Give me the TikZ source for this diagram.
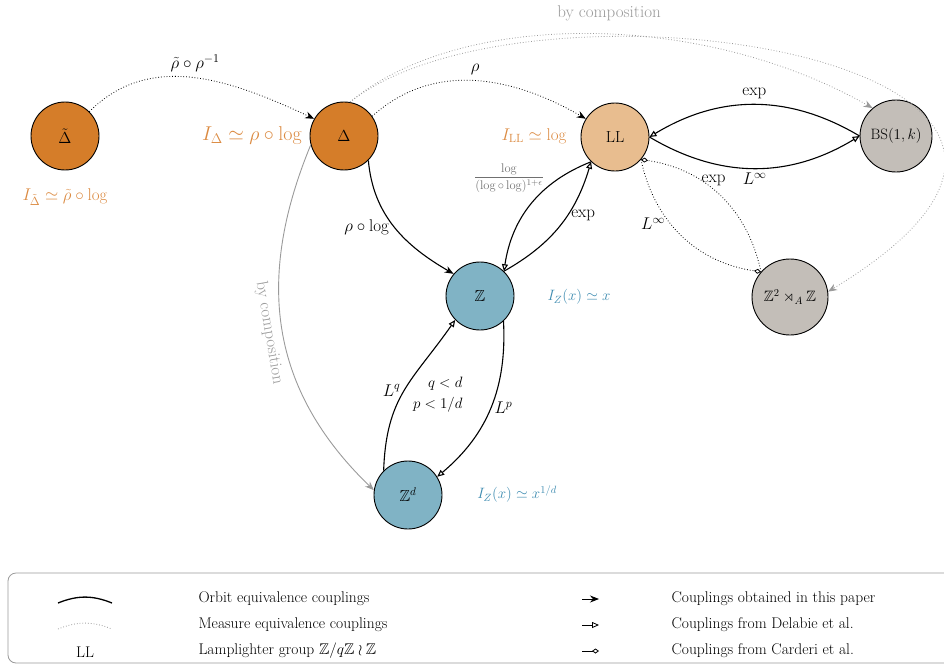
\RequirePackage{fix-cm}
\documentclass[tikz,border=0pt]{standalone}
\usepackage{amsmath,amssymb}
\usepackage{fontspec}
\usetikzlibrary{arrows.meta}
\definecolor{dorange}{HTML}{D57D29}
\definecolor{lorange}{HTML}{E8BD8F}
\definecolor{blueg}{HTML}{80B3C5}
\definecolor{grayg}{HTML}{C3BEB8}
\definecolor{orangetext}{HTML}{DB8A41}
\definecolor{bluetext}{HTML}{3D8BB0}
\definecolor{compgray}{HTML}{9A9A9A}
\definecolor{fracgray}{HTML}{707070}
\begin{document}
\begin{tikzpicture}[x=1pt,y=1pt,
  grp/.style={circle,draw=black,line width=0.9pt,minimum size=68pt,inner sep=0pt,font=\fontsize{16}{18}\selectfont},
  lbl/.style={font=\fontsize{17}{19}\selectfont},
  isoo/.style={text=orangetext,font=\fontsize{17}{19}\selectfont},
  isob/.style={text=bluetext,font=\fontsize{15}{17}\selectfont},
  oe/.style={line width=1.1pt},
  me/.style={dotted,line width=0.8pt},
  ours/.style={-{Stealth[length=9pt,width=7pt]}},
  dela/.style={-{Triangle[open,length=7pt,width=6pt]}},
  card/.style={-{Diamond[open,length=7pt,width=5pt]}},
  legtext/.style={font=\fontsize{15.5}{17}\selectfont,anchor=west},
]
\useasboundingbox (0,0) rectangle (944,-666);

% groups
\node[grp,fill=dorange] (Dt) at (65,-136) {$\tilde\Delta$};
\node[grp,fill=dorange] (D) at (344,-136) {$\Delta$};
\node[grp,fill=lorange] (LL) at (615,-137) {LL};
\node[grp,fill=grayg,minimum size=72pt,font=\fontsize{15}{17}\selectfont] (BS) at (896,-136) {BS$(1,k)$};
\node[grp,fill=blueg] (Z) at (480,-296) {$\mathbb{Z}$};
\node[grp,fill=grayg,minimum size=76pt,font=\fontsize{15}{17}\selectfont] (ZA) at (790,-297) {$\mathbb{Z}^2\rtimes_A\mathbb{Z}$};
\node[grp,fill=blueg] (Zd) at (408,-495) {$\mathbb{Z}^d$};

% isoperimetric profiles
\node[isoo] (iDt) at (65,-197) {$I_{\tilde\Delta}\simeq\tilde\rho\circ\log$};
\node[isoo,font=\fontsize{20}{22}\selectfont] (iD) at (252,-136) {$I_\Delta\simeq\rho\circ\log$};
\node[isoo] (iLL) at (534,-136) {$I_{\mathrm{LL}}\simeq\log$};
\node[isob] (iZ) at (579,-297) {$I_Z(x)\simeq x$};
\node[isob] (iZd) at (517,-494) {$I_Z(x)\simeq x^{1/d}$};

% measure equivalence (this paper)
\draw[me,ours] (Dt.45) to[out=45,in=155] node[lbl,above=2pt] {$\tilde\rho\circ\rho^{-1}$} (D.150);
\draw[me,ours] (D.35) to[out=42,in=150] node[lbl,above=2pt] {$\rho$} (LL.148);

% by composition (top)
\draw[me,draw=compgray,-{Stealth[length=9pt,width=7pt]},compgray] (D.80) .. controls (460,-10) and (700,-10) .. (BS.130);
\draw[me,draw=compgray,-{Stealth[length=9pt,width=7pt]},compgray] (D.80) .. controls (530,40) and (1210,-60) .. (ZA.8);
\node[lbl,text=compgray] (bc1) at (609,-13) {by composition};

% by composition (left)
\draw[line width=0.9pt,compgray,-{Stealth[length=9pt,width=7pt]}] (D.-165) .. controls (255,-280) and (270,-390) .. node[lbl,sloped,below=2pt,text=compgray] {by composition} (Zd.172);

% orbit equivalence (this paper)
\draw[oe,ours] (D.-45) to[out=-85,in=150] node[lbl,left=2pt,pos=0.5] {$\rho\circ\log$} (Z.140);

% Delabie et al.
\draw[oe,dela] (LL.-134) to[bend right=30] (Z.46);
\node[text=fracgray,font=\fontsize{12.5}{14}\selectfont] (frac) at (509,-178) {$\dfrac{\log}{(\log\circ\log)^{1+\epsilon}}$};
\draw[oe,dela] (Z.46) to[bend right=22] node[lbl,right,pos=0.6] {$\exp$} (LL.-134);
\draw[oe,dela] (BS.180) to[bend right=31] node[lbl,above=2pt] {$\exp$} (LL.0);
\draw[oe,dela] (LL.0) to[bend right=31] node[lbl,below=1pt] {$L^\infty$} (BS.180);
\draw[oe,dela] (Z.-47) to[out=-87,in=40] node[lbl,right,pos=0.5] {$L^p$} (Zd.32);
\draw[oe,dela] (Zd.135) to[out=88,in=-125,looseness=1.15] node[lbl,left,pos=0.5] {$L^q$} (Z.-136);
\node[lbl,anchor=east,align=right,font=\fontsize{15}{21}\selectfont] (cond) at (466,-395) {$q<d$\\$p<1/d$};

% Carderi et al.
\draw[me,card] (ZA.139) to[bend right=35] node[lbl,above,pos=0.55] {$\exp$} (LL.-41);
\draw[me,card] (LL.-41) to[bend right=35] node[lbl,left=2pt,pos=0.4] {$L^\infty$} (ZA.139);

% legend
\draw[compgray,line width=0.8pt,rounded corners=8pt] (8,-573) rectangle (990,-663);
\coordinate (oa) at (58,-603); \coordinate (ob) at (112,-603);
\draw[oe,line width=1.3pt] (oa) to[bend left=22] (ob);
\coordinate (ma) at (58,-629); \coordinate (mb) at (112,-629);
\draw[me,draw=compgray] (ma) to[bend left=22] (mb);
\node[font=\fontsize{15.5}{17}\selectfont] (legLL) at (85,-652) {LL};
\node[legtext] (t1) at (195,-599) {Orbit equivalence couplings};
\node[legtext] (t2) at (195,-625) {Measure equivalence couplings};
\node[legtext] (t3) at (195,-651) {Lamplighter group $\mathbb{Z}/q\mathbb{Z}\wr\mathbb{Z}$};
\coordinate (a1) at (582,-599); \coordinate (b1) at (599,-599);
\draw[line width=0.8pt,ours] (a1) -- (b1);
\coordinate (a2) at (582,-625); \coordinate (b2) at (599,-625);
\draw[line width=0.8pt,dela] (a2) -- (b2);
\coordinate (a3) at (582,-651); \coordinate (b3) at (599,-651);
\draw[line width=0.8pt,card] (a3) -- (b3);
\node[legtext] (t4) at (668,-599) {Couplings obtained in this paper};
\node[legtext] (t5) at (668,-625) {Couplings from Delabie et al.};
\node[legtext] (t6) at (668,-651) {Couplings from Carderi et al.};
\end{tikzpicture}
\end{document}
